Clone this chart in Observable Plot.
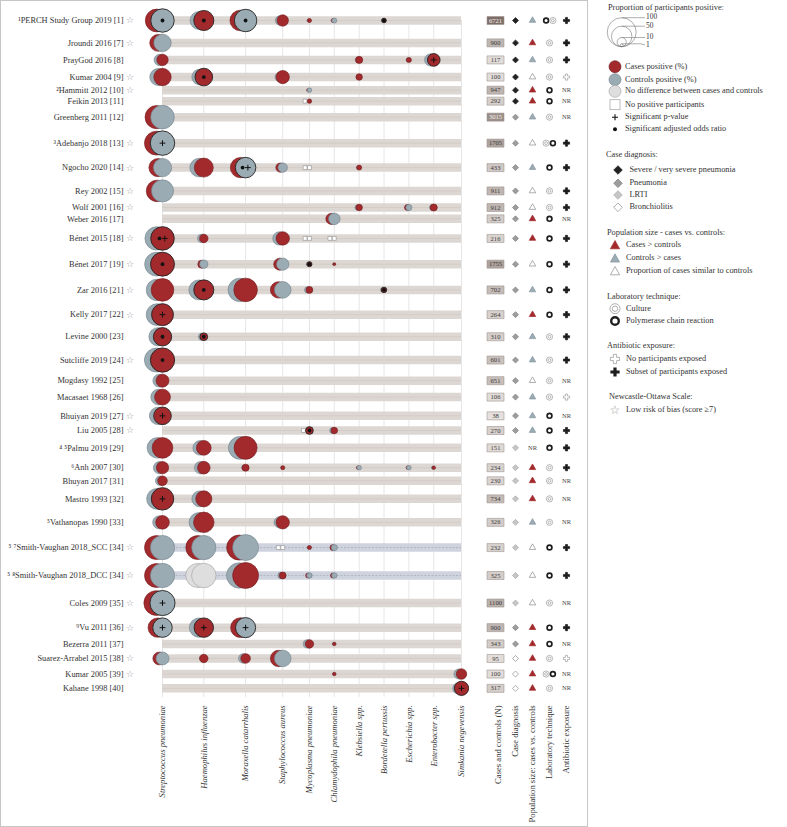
<!DOCTYPE html>
<html><head><meta charset="utf-8">
<script src="https://cdn.jsdelivr.net/npm/d3@7"></script>
<script src="https://cdn.jsdelivr.net/npm/@observablehq/plot@0.6"></script>
<style>
body{margin:0;background:#fff;}
#panel{position:absolute;left:0;top:0;width:588px;height:827px;border:1.5px solid #c6c6c6;box-sizing:border-box;}
#chart{position:absolute;left:0;top:0;}
#side{position:absolute;left:470px;top:0;}
#legend{position:absolute;left:600px;top:0;}
svg{overflow:visible}
</style></head><body>
<div id="panel"></div>
<div id="chart"></div><div id="side"></div><div id="legend"></div>
<script>
// ---------------- DATA ----------------
const studies = [
 "¹PERCH Study Group 2019 [1]","Jroundi 2016 [7]","PrayGod 2016 [8]","Kumar 2004 [9]","²Hammitt 2012 [10]",
 "Feikin 2013 [11]","Greenberg 2011 [12]","³Adebanjo 2018 [13]","Ngocho 2020 [14]","Rey 2002 [15]",
 "Wolf 2001 [16]","Weber 2016 [17]","Bénet 2015 [18]","Bénet 2017 [19]","Zar 2016 [21]",
 "Kelly 2017 [22]","Levine 2000 [23]","Sutcliffe 2019 [24]","Mogdasy 1992 [25]","Macasaet 1968 [26]",
 "Bhuiyan 2019 [27]","Liu 2005 [28]","⁴ ⁵Palmu 2019 [29]","⁶Anh 2007 [30]","Bhuyan 2017 [31]",
 "Mastro 1993 [32]","⁵Vathanopas 1990 [33]","⁵ ⁷Smith-Vaughan 2018_SCC [34]","⁵ ⁸Smith-Vaughan 2018_DCC [34]","Coles 2009 [35]",
 "⁹Vu 2011 [36]","Bezerra 2011 [37]","Suarez-Arrabel 2015 [38]","Kumar 2005 [39]","Kahane 1998 [40]"
];
const lowRiskOfBias = [1,1,0,1,1, 0,0,1,1,1, 1,0,1,1,1, 1,0,1,0,0, 1,1,0,0,0, 0,0,1,1,1, 1,0,1,1,0];
const organisms = ["Streptococcus pneumoniae","Haemophilus influenzae","Moraxella catarrhalis","Staphylococcus aureus",
 "Mycoplasma pneumoniae","Chlamydophila pneumoniae","Klebsiella spp.","Bordetella pertussis","Escherichia spp.",
 "Enterobacter spp.","Simkania negevensis"];
const _ = null;
// % positive among cases (columns follow `organisms`)
const casesPositive = [
 [62,48,50,15.5,2,2,_,2.5,_,_,_],
 [34,_,_,_,_,_,_,_,_,_,_],
 [15.5,_,_,_,_,_,6,_,3,19,_],
 [36,37,_,21,_,_,5,_,_,_,_],
 [_,_,_,_,1.5,_,_,_,_,_,_],
 [_,_,_,_,2.3,_,_,_,_,_,_],
 [64,_,_,_,_,_,_,_,_,_,_],
 [68,_,_,_,_,_,_,_,_,_,_],
 [39,43,49,10,0,_,3,_,_,_,_],
 [55,_,_,_,_,_,_,_,_,_,_],
 [_,_,_,_,_,_,5,_,4,6,_],
 [_,_,_,_,_,15,_,_,_,_,_],
 [66,8.5,_,21.5,0,0,_,_,_,_,_],
 [68,7.5,_,17,3,1,_,_,_,_,_],
 [61,48,66,32,5.5,_,_,3.5,_,_,_],
 [57,_,_,_,_,_,_,_,_,_,_],
 [40,7,_,_,_,_,_,_,_,_,_],
 [70,_,_,_,_,_,_,_,_,_,_],
 [20,_,_,_,_,_,_,_,_,_,_],
 [30,_,_,_,_,_,_,_,_,_,_],
 [37,_,_,_,_,_,_,_,_,_,_],
 [_,_,_,_,7,5,_,_,_,_,_],
 [51,26,63,_,_,_,_,_,_,_,_],
 [18,19,6,2,_,_,1.5,_,1.5,1.5,_],
 [11,_,_,_,_,_,_,_,_,_,_],
 [60,31,_,_,_,_,_,_,_,_,_],
 [22,50,_,21,_,_,_,_,_,_,_],
 [68,68,75,0,2,4,_,_,_,_,_],
 [68,69,80,5.5,3,3,_,_,_,_,_],
 [73,_,_,_,_,_,_,_,_,_,_],
 [44,45,47,_,_,_,_,_,_,_,_],
 [_,_,_,_,8.5,1.5,_,_,_,_,_],
 [19.5,8.5,11,32,_,_,_,_,_,_,_],
 [_,_,_,_,_,1.5,_,_,_,_,13],
 [_,_,_,_,_,_,_,_,_,_,24]
];
// % positive among controls
const controlsPositive = [
 [65,38.5,60,11,1.2,3,_,1.5,_,_,_],
 [36,_,_,_,_,_,_,_,_,_,_],
 [15,_,_,_,_,_,3,_,1.5,17.5,_],
 [34,29,_,11,_,_,1.5,_,_,_,_],
 [_,_,_,_,2.5,_,_,_,_,_,_],
 [_,_,_,_,0,_,_,_,_,_,_],
 [66,_,_,_,_,_,_,_,_,_,_],
 [71,_,_,_,_,_,_,_,_,_,_],
 [40,41,50,10.5,0,_,1.5,_,_,_,_],
 [58,_,_,_,_,_,_,_,_,_,_],
 [_,_,_,_,_,_,3.5,_,4.5,3.5,_],
 [_,_,_,_,_,16,_,_,_,_,_],
 [65,8,_,21,0,0,_,_,_,_,_],
 [67,8,_,18,2,0.5,_,_,_,_,_],
 [55,47,65,33,5,_,_,2.5,_,_,_],
 [56,_,_,_,_,_,_,_,_,_,_],
 [39,6,_,_,_,_,_,_,_,_,_],
 [69,_,_,_,_,_,_,_,_,_,_],
 [19.5,_,_,_,_,_,_,_,_,_,_],
 [29,_,_,_,_,_,_,_,_,_,_],
 [36,_,_,_,_,_,_,_,_,_,_],
 [_,_,_,_,0,4.5,_,_,_,_,_],
 [50,25,62,_,_,_,_,_,_,_,_],
 [17.5,18.5,3,0.5,_,_,2.5,_,2.5,1,_],
 [10.5,_,_,_,_,_,_,_,_,_,_],
 [52,30,_,_,_,_,_,_,_,_,_],
 [20,45,_,15,_,_,_,_,_,_,_],
 [70,70,80,0,1,4.5,_,_,_,_,_],
 [70,71,76,5,3.5,3.5,_,_,_,_,_],
 [75,_,_,_,_,_,_,_,_,_,_],
 [45,44,48,_,_,_,_,_,_,_,_],
 [_,_,_,_,8,0.8,_,_,_,_,_],
 [20,3,10.5,33,_,_,_,_,_,_,_],
 [_,_,_,_,_,0.5,_,_,_,_,12],
 [_,_,_,_,_,_,_,_,_,_,15]
];
// [study index, organism index]
const sigPValue = [[2,9],[7,0],[8,2],[12,0],[15,0],[20,0],[25,0],[29,0],[30,0],[30,1],[30,2],[34,10]];
const sigAdjustedOR = [[0,0],[0,1],[0,2],[0,7],[3,1],[8,2],[12,0],[13,0],[13,4],[14,1],[14,7],[16,0],[16,1],[17,0],[21,4]];
const noDifference = [[28,1]];
const sampleSize = [6721,900,117,100,947,292,3015,1705,433,911,912,325,216,1755,702,264,310,601,651,106,38,270,151,234,230,734,326,232,325,1100,900,343,95,100,317];
const caseDiagnosis = ["severe","severe","severe","severe","severe","severe",
 "pneumonia","pneumonia","pneumonia","pneumonia","pneumonia","pneumonia","pneumonia","pneumonia","pneumonia","pneumonia",
 "pneumonia","pneumonia","pneumonia","pneumonia","pneumonia","pneumonia",
 "lrti","lrti","lrti","lrti","lrti","lrti","lrti","lrti",
 "pneumonia","pneumonia","bronchiolitis","bronchiolitis","bronchiolitis"];
const populationSize = ["controls","cases","controls","similar","cases","cases","controls","similar","controls","similar",
 "similar","cases","cases","similar","controls","cases","controls","controls","similar","controls",
 "controls","controls","NR","cases","cases","cases","controls","similar","similar","similar",
 "cases","cases","cases","cases","cases"];
const labTechnique = ["PCR+culture","culture","culture","culture","PCR","PCR","culture","culture+PCR","PCR","culture",
 "culture","PCR","PCR","PCR","PCR","PCR","culture","culture","culture","culture",
 "PCR","PCR","PCR","culture","culture","culture","culture","PCR","PCR","culture",
 "PCR","PCR","culture","culture+PCR","culture"];
const antibioticExposure = ["subset","subset","subset","none","NR","NR","NR","subset","subset","subset",
 "subset","NR","subset","subset","subset","subset","subset","subset","NR","none",
 "NR","subset","subset","subset","NR","NR","NR","subset","subset","NR",
 "subset","NR","none","NR","NR"];
const sideColumns = ["Cases and controls (N)","Case diagnosis","Population size: cases vs. controls","Laboratory technique","Antibiotic exposure"];
const sizeLegendValues = [100, 50, 10, 1];

// ---------------- LAYOUT (derived from data) ----------------
const rOpts = {type:"sqrt", domain:[0,100], range:[0,14.5]};
const rScale = Plot.scale({r: rOpts});
const rad = v => (v == null || v <= 0) ? 0 : rScale.apply(v);
const nS = studies.length, nO = organisms.length;
const cellR = (i,j) => Math.max(rad(casesPositive[i][j]), rad(controlsPositive[i][j]));
const rowR = studies.map((s,i) => d3.max(organisms, (o,j) => cellR(i,j)) || 0);
const rowY = [0];
for (let i = 1; i < nS; i++) rowY[i] = rowY[i-1] + Math.max(11, rowR[i-1] + rowR[i] + 2);
const colR = organisms.map((o,j) => d3.max(studies, (s,i) => cellR(i,j)) || 0);
const colX = [0];
for (let j = 1; j < nO; j++) colX[j] = colX[j-1] + 25 + Math.max(0, 1.2*(colR[j-1] + colR[j] - 11));
const yMax = rowY[nS-1], xMax = colX[nO-1];
const X0 = 162, X1 = 461, Y0 = 20;
const kx = (X1 - X0) / xMax;
const yScale = {domain:[0, yMax], range:[Y0, Y0 + yMax]};

const key = (i,j) => i + "," + j;
const pSet = new Set(sigPValue.map(([i,j]) => key(i,j)));
const orSet = new Set(sigAdjustedOR.map(([i,j]) => key(i,j)));
const ndSet = new Set(noDifference.map(([i,j]) => key(i,j)));
const fronts = [], backs = [], plusMarks = [], dotMarks = [];
studies.forEach((s,i) => organisms.forEach((o,j) => {
  const c = casesPositive[i][j], k = controlsPositive[i][j];
  if (c == null || k == null) return;
  const nd = ndSet.has(key(i,j));
  const caseFront = c >= k;
  const fv = caseFront ? c : k, bv = caseFront ? k : c;
  const rf = rad(fv), rb = rad(bv);
  const off = bv === 0 ? Math.max(rf, 2.2) + 2.2 : 0.25*(rf + rb);
  const hasP = pSet.has(key(i,j)), hasOR = orSet.has(key(i,j));
  const x = colX[j], y = rowY[i];
  fronts.push({x, y, v: fv, g: nd ? "nd" : caseFront ? "case" : "control", sig: hasP || hasOR});
  backs.push({x: x - off/kx, y, v: bv, g: nd ? "nd" : caseFront ? "control" : "case"});
  const both = hasP && hasOR;
  if (hasP) plusMarks.push({x: x + (both ? 2.3 : 0)/kx, y});
  if (hasOR) dotMarks.push({x: x - (both ? 3 : 0)/kx, y});
}));
const fillC = {case:"#a2292c", control:"#9babb3", nd:"#dedede"};
const strokeC = {case:"#6e1b1e", control:"#718089", nd:"#a0a0a0"};
const isSV = s => s.includes("Smith-Vaughan");
const FONT = "Liberation Serif";

// ---------------- MAIN BUBBLE PLOT ----------------
const main = Plot.plot({
  width: 470, height: 827,
  x: {domain:[0, xMax], range:[X0, X1], axis: null},
  y: {...yScale, axis: null},
  r: rOpts,
  color: {type: "identity"},
  style: {background: "transparent", overflow: "visible"},
  marks: [
    Plot.ruleX(organisms, {x: (d,j) => colX[j], y1: () => 0, y2: () => yMax + 9, stroke: "#e6e6e6", strokeWidth: 1}),
    Plot.ruleY(studies, {y: (d,i) => rowY[i], x1: () => 0, x2: () => xMax, stroke: d => isSV(d) ? "#cfd3de" : "#ddd7d3", strokeWidth: 8.5}),
    Plot.ruleY(studies.filter(d => !isSV(d)), {y: d => rowY[studies.indexOf(d)], x1: () => 0, x2: () => xMax, stroke: "#cdc4bf", strokeWidth: 0.6}),
    Plot.ruleY(studies.filter(isSV), {y: d => rowY[studies.indexOf(d)], x1: () => 0, x2: () => xMax, stroke: "#9da3b4", strokeWidth: 0.6, strokeDasharray: "2,1.5"}),
    Plot.dot(backs.filter(d => d.v > 0), {x: "x", y: "y", r: "v", fill: d => fillC[d.g], stroke: d => strokeC[d.g], strokeWidth: 0.6}),
    Plot.dot(backs.filter(d => d.v === 0), {x: "x", y: "y", symbol: "square", r: 2.2, fill: "white", stroke: "#9a9a9a", strokeWidth: 0.7}),
    Plot.dot(fronts.filter(d => d.v > 0), {x: "x", y: "y", r: "v", fill: d => fillC[d.g], stroke: d => d.sig ? "#222" : strokeC[d.g], strokeWidth: d => d.sig ? 0.9 : 0.6}),
    Plot.dot(fronts.filter(d => d.v === 0), {x: "x", y: "y", symbol: "square", r: 2.2, fill: "white", stroke: "#9a9a9a", strokeWidth: 0.7}),
    Plot.dot(dotMarks, {x: "x", y: "y", r: 1.9, fill: "#111"}),
    Plot.dot(plusMarks, {x: "x", y: "y", symbol: "plus", r: 2, stroke: "#111", strokeWidth: 1}),
    Plot.text(studies, {x: () => 0, y: (d,i) => rowY[i], text: d => d, textAnchor: "end", dx: -39, fontSize: 8.4, fontFamily: FONT, fill: "#333"}),
    Plot.text(studies.filter((d,i) => lowRiskOfBias[i]), {x: () => 0, y: d => rowY[studies.indexOf(d)], text: () => "☆", dx: -32.5, fontSize: 9, fontFamily: "DejaVu Sans", fill: "#9a9a9a"}),
    Plot.text(organisms, {x: (d,j) => colX[j], y: () => yMax, text: d => d, dy: 17, rotate: -90, textAnchor: "end", fontStyle: "italic", fontSize: 8.6, fontFamily: FONT, fill: "#333"})
  ]
});
document.getElementById("chart").append(main);

// ---------------- SIDE TABLE PLOT ----------------
const nColor = n => d3.interpolateRgb("#e6e1de", "#7f6e67")(Math.pow(Math.log(n/38)/Math.log(6721/38), 2));
const boxSymbol = {draw(ctx) { ctx.rect(-8.5, -4, 17, 8); }};
const dxFill = {severe:"#222", pneumonia:"#9d9d9d", lrti:"#c6c6c6", bronchiolitis:"#ffffff"};
const dxStroke = {severe:"#222", pneumonia:"#808080", lrti:"#a8a8a8", bronchiolitis:"#8c8c8c"};
const popFill = {cases:"#a2292c", controls:"#9babb3", similar:"#ffffff"};
const popStroke = {cases:"#a2292c", controls:"#8797a0", similar:"#8c8c8c"};
const labItems = [];
labTechnique.forEach((t,i) => { const parts = t.split("+"); parts.forEach((p,k) => labItems.push({i, tech: p, pos: parts.length === 1 ? 0 : (k === 0 ? -1 : 1)})); });
const labMarks = [];
[-1,0,1].forEach(pos => {
  const cult = labItems.filter(d => d.pos === pos && d.tech === "culture");
  const pcr = labItems.filter(d => d.pos === pos && d.tech === "PCR");
  const o = {x: () => sideColumns[3], y: d => rowY[d.i], dx: pos*3.4};
  labMarks.push(
    Plot.dot(cult, {...o, r: 3.1, fill: "white", stroke: "#a5a5a5", strokeWidth: 0.8}),
    Plot.dot(cult, {...o, r: 1.4, fill: "none", stroke: "#a5a5a5", strokeWidth: 0.8}),
    Plot.dot(pcr, {...o, r: 2.4, fill: "white", stroke: "#1e1e1e", strokeWidth: 1.7})
  );
});
const idx = studies.map((s,i) => i);
const side = Plot.plot({
  width: 117, height: 827,
  x: {type: "point", domain: sideColumns, range: [27, 96], padding: 0, axis: null},
  y: {...yScale, axis: null},
  color: {type: "identity"},
  style: {background: "transparent", overflow: "visible"},
  marks: [
    Plot.dot(idx, {x: () => sideColumns[0], y: i => rowY[i], symbol: boxSymbol, r: 4, fill: i => nColor(sampleSize[i]), stroke: "#9d938e", strokeWidth: 0.6, dx: -3}),
    Plot.text(idx, {x: () => sideColumns[0], y: i => rowY[i], text: i => String(sampleSize[i]), fill: i => sampleSize[i] > 2500 ? "#f4f0ee" : "#3b3b3b", fontSize: 6.6, fontFamily: FONT, dx: -3}),
    Plot.dot(idx, {x: () => sideColumns[1], y: i => rowY[i], symbol: "diamond2", r: 2.7, fill: i => dxFill[caseDiagnosis[i]], stroke: i => dxStroke[caseDiagnosis[i]], strokeWidth: 0.7}),
    Plot.dot(idx.filter(i => populationSize[i] !== "NR"), {x: () => sideColumns[2], y: i => rowY[i], symbol: "triangle", r: 2.4, fill: i => popFill[populationSize[i]], stroke: i => popStroke[populationSize[i]], strokeWidth: 0.7}),
    Plot.text(idx.filter(i => populationSize[i] === "NR"), {x: () => sideColumns[2], y: i => rowY[i], text: () => "NR", fontSize: 6.5, fontFamily: FONT, fill: "#444"}),
    ...labMarks,
    Plot.dot(idx.filter(i => antibioticExposure[i] !== "NR"), {x: () => sideColumns[4], y: i => rowY[i], symbol: "cross", r: 2.6, fill: i => antibioticExposure[i] === "subset" ? "#1c1c1c" : "#ffffff", stroke: i => antibioticExposure[i] === "subset" ? "#1c1c1c" : "#a0a0a0", strokeWidth: 0.7}),
    Plot.text(idx.filter(i => antibioticExposure[i] === "NR"), {x: () => sideColumns[4], y: i => rowY[i], text: () => "NR", fontSize: 6.5, fontFamily: FONT, fill: "#444"}),
    Plot.text(sideColumns, {x: d => d, y: () => yMax, text: d => d, dy: 17, rotate: -90, textAnchor: "end", fontSize: 8.6, fontFamily: FONT, fill: "#333"})
  ]
});
document.getElementById("side").append(side);

// ---------------- LEGEND ----------------
const ox = 600;
const L = d3.select("#legend").append("svg").attr("width", 187).attr("height", 430)
  .attr("font-family", FONT).attr("font-size", 8.3);
const T = (x, y, s, size) => L.append("text").attr("x", x - ox).attr("y", y).attr("dominant-baseline", "middle").attr("fill", "#333").attr("font-size", size || 8.3).text(s);
T(608, 8, "Proportion of participants positive:");
const cx = 621.7 - ox, by = 46.7;
let lastLabelY = -Infinity;
sizeLegendValues.forEach(v => {
  const r = rad(v), top = by - 2*r;
  const ly = Math.max(top, lastLabelY + 7.4);
  lastLabelY = ly;
  L.append("circle").attr("cx", cx).attr("cy", by - r).attr("r", r).attr("fill", "none").attr("stroke", "#777").attr("stroke-width", 0.6);
  L.append("path").attr("d", `M${cx},${top}L${641 - ox},${top}L${645 - ox},${ly}`).attr("fill", "none").attr("stroke", "#777").attr("stroke-width", 0.6);
  T(646, ly, String(v), 7.4);
});
const items = [
  [66.7, "circle", "#a2292c", "#6e1b1e", "Cases positive (%)"],
  [79.7, "circle", "#9babb3", "#718089", "Controls positive (%)"],
  [91.3, "circle", "#dedede", "#a0a0a0", "No difference between cases and controls"],
  [104.7, "square", "#fff", "#a0a0a0", "No positive participants"],
  [117.3, "plus", "#111", "#111", "Significant p-value"],
  [129.3, "dot", "#111", "#111", "Significant adjusted odds ratio"]
];
items.forEach(([y, kind, f, s, label]) => {
  const x = 615 - ox;
  if (kind === "circle") L.append("circle").attr("cx", x).attr("cy", y).attr("r", 6).attr("fill", f).attr("stroke", s).attr("stroke-width", 0.6);
  if (kind === "square") L.append("rect").attr("x", x - 5).attr("y", y - 5).attr("width", 10).attr("height", 10).attr("fill", f).attr("stroke", s).attr("stroke-width", 0.7);
  if (kind === "plus") L.append("path").attr("d", `M${x-3},${y}H${x+3}M${x},${y-3}V${y+3}`).attr("stroke", s).attr("stroke-width", 1.1);
  if (kind === "dot") L.append("circle").attr("cx", x).attr("cy", y).attr("r", 2).attr("fill", f);
  T(625, y, label);
});
T(606, 155, "Case diagnosis:");
[[170, "severe", "Severe / very severe pneumonia"], [183.3, "pneumonia", "Pneumonia"], [195, "lrti", "LRTI"], [207.3, "bronchiolitis", "Bronchiolitis"]].forEach(([y, k, label]) => {
  const x = 618 - ox, h = 4.3;
  L.append("path").attr("d", `M${x},${y-h}L${x+h},${y}L${x},${y+h}L${x-h},${y}Z`).attr("fill", dxFill[k]).attr("stroke", dxStroke[k]).attr("stroke-width", 0.7);
  T(629.5, y, label);
});
T(607, 233.3, "Population size - cases vs. controls:");
[[245, "cases", "Cases > controls"], [258.3, "controls", "Controls > cases"], [271, "similar", "Proportion of cases similar to controls"]].forEach(([y, k, label]) => {
  const x = 615 - ox;
  L.append("path").attr("d", `M${x},${y-4.5}L${x+4.6},${y+3.8}L${x-4.6},${y+3.8}Z`).attr("fill", popFill[k]).attr("stroke", popStroke[k]).attr("stroke-width", 0.7);
  T(626, y, label);
});
T(607, 296.7, "Laboratory technique:");
L.append("circle").attr("cx", 615 - ox).attr("cy", 308.7).attr("r", 5).attr("fill", "white").attr("stroke", "#a5a5a5").attr("stroke-width", 0.9);
L.append("circle").attr("cx", 615 - ox).attr("cy", 308.7).attr("r", 2.7).attr("fill", "none").attr("stroke", "#a5a5a5").attr("stroke-width", 0.9);
T(626, 308.7, "Culture");
L.append("circle").attr("cx", 615 - ox).attr("cy", 321).attr("r", 3.8).attr("fill", "white").attr("stroke", "#1e1e1e").attr("stroke-width", 2.4);
T(626, 321, "Polymerase chain reaction");
T(607, 345.7, "Antibiotic exposure:");
const crossPath = (x, y) => { const a = 1.6, b = 4.6; return `M${x-a},${y-b}H${x+a}V${y-a}H${x+b}V${y+a}H${x+a}V${y+b}H${x-a}V${y+a}H${x-b}V${y-a}H${x-a}Z`; };
L.append("path").attr("d", crossPath(615 - ox, 359)).attr("fill", "white").attr("stroke", "#a0a0a0").attr("stroke-width", 0.8);
T(626, 359, "No participants exposed");
L.append("path").attr("d", crossPath(615 - ox, 372)).attr("fill", "#1c1c1c");
T(626, 372, "Subset of participants exposed");
T(609, 396.7, "Newcastle-Ottawa Scale:");
L.append("text").attr("x", 615 - ox).attr("y", 410).attr("text-anchor", "middle").attr("dominant-baseline", "middle").attr("font-family", "DejaVu Sans").attr("font-size", 12).attr("fill", "#9a9a9a").text("☆");
T(626, 410, "Low risk of bias (score ≥7)");
</script>
</body></html>
